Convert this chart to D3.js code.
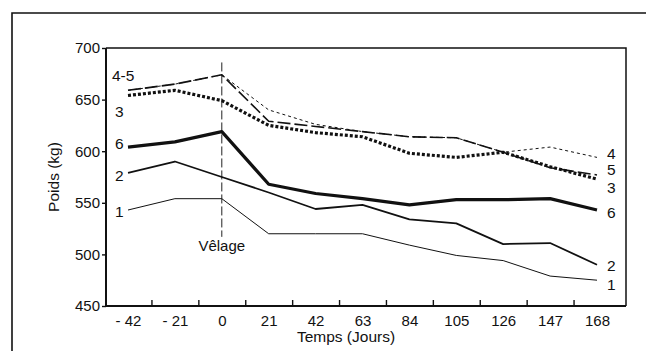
<!DOCTYPE html>
<html>
<head>
<meta charset="utf-8">
<script src="https://cdn.jsdelivr.net/npm/d3@7"></script>
<style>
  body { margin: 0; background: #fff; }
  svg { display: block; font-family: "Liberation Sans", Arial, sans-serif; }
</style>
</head>
<body>
<div id="chart"></div>
<script>
// days relative to calving
var days = [-42, -21, 0, 21, 42, 63, 84, 105, 126, 147, 168];
var yTicks = [450, 500, 550, 600, 650, 700];

// body weight (kg) per group
var group1 = [543, 554, 554, 520, 520, 520, 509, 499, 494, 479, 475];
var group2 = [579, 590, 575, 560, 544, 548, 534, 530, 510, 511, 490];
var group3 = [654, 659, 649, 625, 618, 614, 598, 594, 599, 585, 573];
var group4 = [659, 665, 674, 640, 626, 619, 614, 613, 599, 604, 594];
var group5 = [659, 665, 674, 629, 624, 619, 614, 613, 599, 584, 577];
var group6 = [604, 609, 619, 568, 559, 554, 548, 553, 553, 554, 543];

var W = 646, H = 351;
var plot = { left: 106, right: 626, top: 48, bottom: 306 };
var ink = '#111';

var svg = d3.select('#chart').append('svg')
    .attr('width', W)
    .attr('height', H);

var x = d3.scaleLinear().domain([-42, 168]).range([128, 597]);
var y = d3.scaleLinear().domain([450, 700]).range([plot.bottom, plot.top]);

// outer page frame (only top and left visible)
svg.append('path')
    .attr('d', 'M12,' + H + 'V13H' + W)
    .attr('fill', 'none')
    .attr('stroke', ink)
    .attr('stroke-width', 1.6);

// plot frame top & right
svg.append('path')
    .attr('d', 'M' + plot.left + ',' + plot.top + 'H' + plot.right + 'V' + plot.bottom)
    .attr('fill', 'none')
    .attr('stroke', ink)
    .attr('stroke-width', 1.5);

// x axis: labels on data days, small ticks between them
var xAxis = svg.append('g')
    .attr('transform', 'translate(0,' + plot.bottom + ')')
    .call(d3.axisBottom(x).tickValues(days).tickSize(0).tickPadding(9)
        .tickFormat(function(d) { return d < 0 ? '- ' + (-d) : d; }));
xAxis.select('.domain').remove();
xAxis.selectAll('text').attr('font-size', 15).attr('font-family', null).attr('fill', ink);

var midTicks = days.slice(0, -1).map(function(d) { return d + 10.5; });
var xTickG = svg.append('g')
    .attr('transform', 'translate(0,' + plot.bottom + ')')
    .call(d3.axisBottom(x).tickValues(midTicks).tickSize(-6).tickFormat(''));
xTickG.select('.domain').remove();
xTickG.selectAll('line').attr('stroke', ink).attr('stroke-width', 1.4);

svg.append('line')
    .attr('x1', plot.left).attr('x2', plot.right)
    .attr('y1', plot.bottom).attr('y2', plot.bottom)
    .attr('stroke', ink).attr('stroke-width', 2);

// y axis
var yAxis = svg.append('g')
    .attr('transform', 'translate(' + plot.left + ',0)')
    .call(d3.axisLeft(y).tickValues(yTicks).tickSize(4).tickPadding(2));
yAxis.select('.domain').remove();
yAxis.selectAll('line').attr('stroke', ink).attr('stroke-width', 1.4);
yAxis.selectAll('text').attr('font-size', 15).attr('font-family', null).attr('fill', ink);

svg.append('line')
    .attr('x1', plot.left).attr('x2', plot.left)
    .attr('y1', plot.top).attr('y2', plot.bottom)
    .attr('stroke', ink).attr('stroke-width', 2);

// axis titles
svg.append('text')
    .attr('x', 346).attr('y', 342)
    .attr('text-anchor', 'middle')
    .attr('font-size', 15.5)
    .attr('fill', ink)
    .text('Temps (Jours)');

svg.append('text')
    .attr('transform', 'translate(59,177) rotate(-90)')
    .attr('text-anchor', 'middle')
    .attr('font-size', 15.5)
    .attr('fill', ink)
    .text('Poids (kg)');

// calving marker
svg.append('line')
    .attr('x1', x(0)).attr('x2', x(0))
    .attr('y1', y(686)).attr('y2', y(517))
    .attr('stroke', '#222')
    .attr('stroke-width', 1)
    .attr('stroke-dasharray', '9,3');

svg.append('text')
    .attr('x', x(0)).attr('y', 251)
    .attr('text-anchor', 'middle')
    .attr('font-size', 15)
    .attr('fill', ink)
    .text('Vêlage');

// series
var series = [
    { name: '1', values: group1, width: 1, dash: null },
    { name: '2', values: group2, width: 1.8, dash: null },
    { name: '4', values: group4, width: 1, dash: '3,3' },
    { name: '5', values: group5, width: 1.6, dash: '13,4' },
    { name: '3', values: group3, width: 3.2, dash: '3,2' },
    { name: '6', values: group6, width: 3.2, dash: null }
];

var line = d3.line()
    .x(function(d, i) { return x(days[i]); })
    .y(function(d) { return y(d); });

svg.append('g').selectAll('path')
    .data(series)
    .enter().append('path')
    .attr('d', function(s) { return line(s.values); })
    .attr('fill', 'none')
    .attr('stroke', ink)
    .attr('stroke-width', function(s) { return s.width; })
    .attr('stroke-dasharray', function(s) { return s.dash; })
    .attr('stroke-linejoin', 'round');

// series labels, left side (offset from first point) and right side (offset from last point)
var leftLabels = [
    { text: '4-5', values: group5, dx: -16, dy: -15 },
    { text: '3', values: group3, dx: -13, dy: 16 },
    { text: '6', values: group6, dx: -13, dy: -4 },
    { text: '2', values: group2, dx: -13, dy: 3 },
    { text: '1', values: group1, dx: -13, dy: 1 }
];
var rightLabels = [
    { text: '4', values: group4, dy: -4 },
    { text: '5', values: group5, dy: -6 },
    { text: '3', values: group3, dy: 8 },
    { text: '6', values: group6, dy: 2 },
    { text: '2', values: group2, dy: 1 },
    { text: '1', values: group1, dy: 4 }
];

svg.append('g').selectAll('text')
    .data(leftLabels)
    .enter().append('text')
    .attr('x', function(d) { return x(days[0]) + d.dx; })
    .attr('y', function(d) { return y(d.values[0]) + d.dy; })
    .attr('dy', '0.36em')
    .attr('font-size', 15.5)
    .attr('fill', ink)
    .text(function(d) { return d.text; });

svg.append('g').selectAll('text')
    .data(rightLabels)
    .enter().append('text')
    .attr('x', x(168) + 10)
    .attr('y', function(d) { return y(d.values[d.values.length - 1]) + d.dy; })
    .attr('dy', '0.36em')
    .attr('font-size', 15.5)
    .attr('fill', ink)
    .text(function(d) { return d.text; });
</script>
</body>
</html>
